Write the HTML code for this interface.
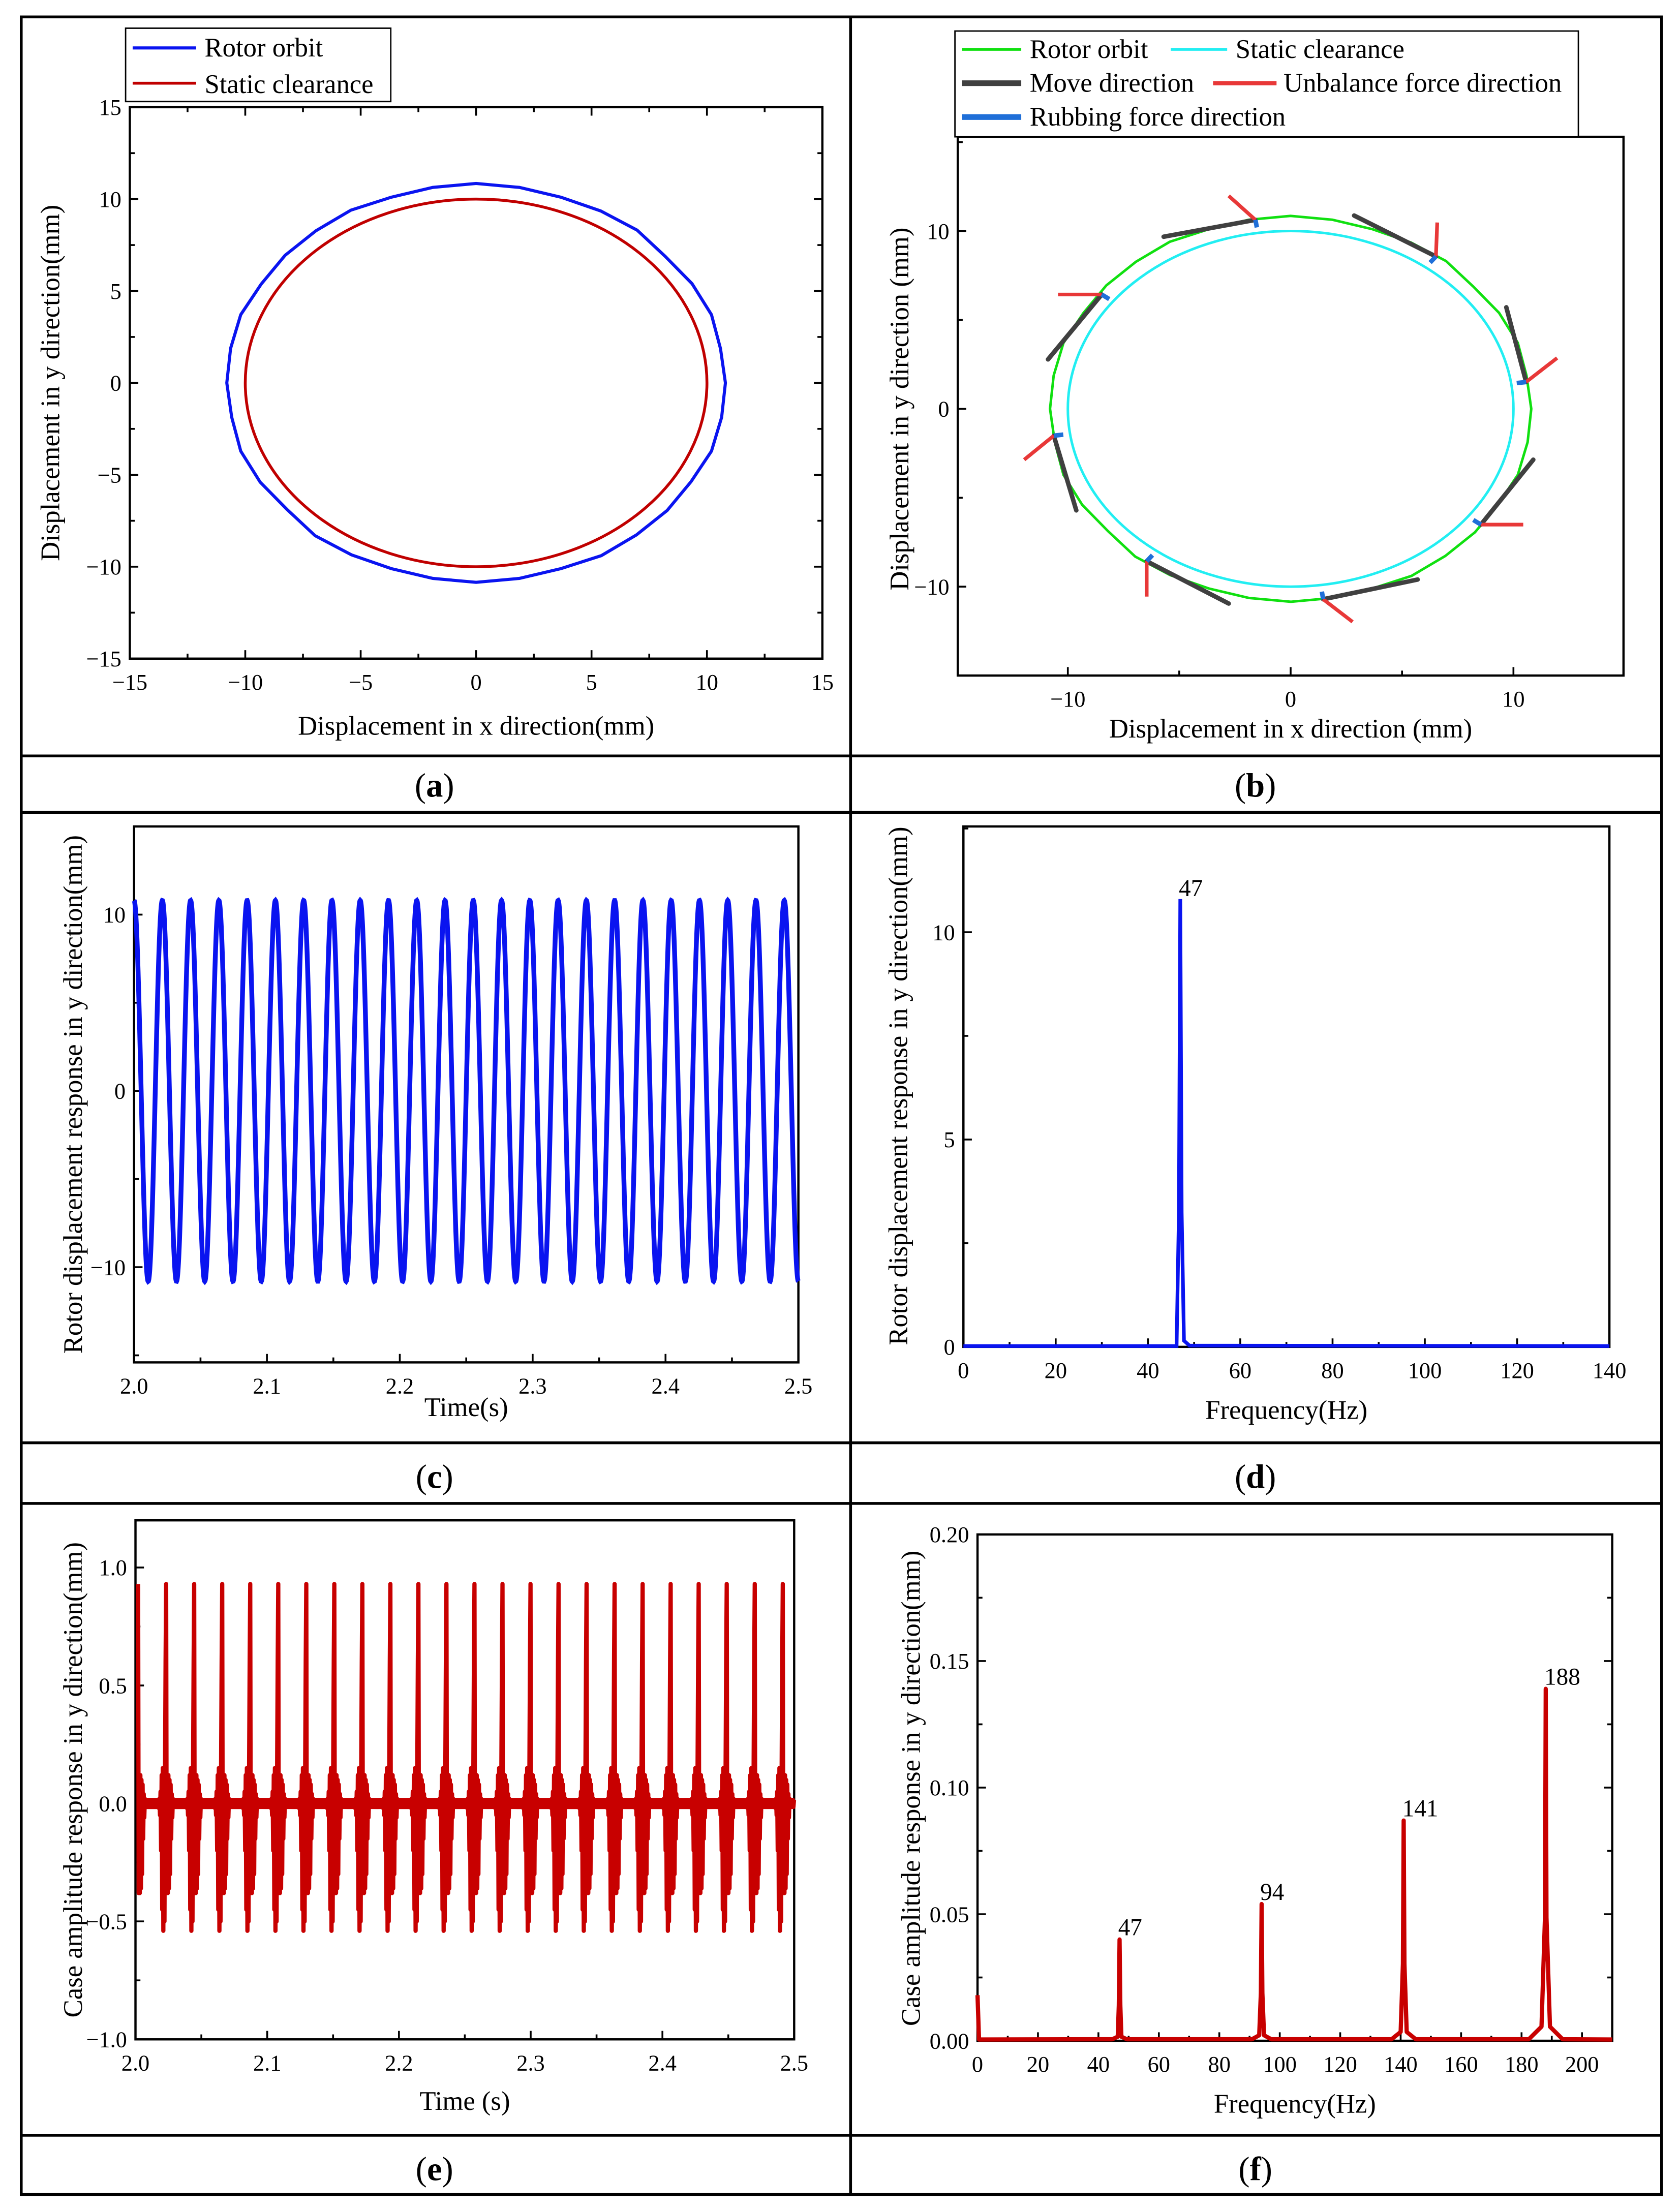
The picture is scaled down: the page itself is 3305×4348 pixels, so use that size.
<!DOCTYPE html>
<html><head><meta charset="utf-8">
<style>
html,body{margin:0;padding:0;background:#fff;}
svg{display:block;font-family:"Liberation Serif","DejaVu Serif",serif;}
</style></head>
<body>
<svg id="fig" xmlns="http://www.w3.org/2000/svg" width="3305" height="4348" viewBox="0 0 1191 1567">
<rect x="0" y="0" width="1191" height="1567" fill="#fff"/>
<g id="frame" stroke="#000" stroke-width="2" fill="none">
<rect x="15" y="12" width="1163" height="1544"/>
<line x1="603" y1="12" x2="603" y2="1556"/>
<line x1="15" y1="536" x2="1178" y2="536"/>
<line x1="15" y1="576" x2="1178" y2="576"/>
<line x1="15" y1="1023" x2="1178" y2="1023"/>
<line x1="15" y1="1066" x2="1178" y2="1066"/>
<line x1="15" y1="1514" x2="1178" y2="1514"/>
</g>
<g font-size="24" text-anchor="middle">
<text x="308" y="565">(<tspan font-weight="bold">a</tspan>)</text>
<text x="890" y="565">(<tspan font-weight="bold">b</tspan>)</text>
<text x="308" y="1055">(<tspan font-weight="bold">c</tspan>)</text>
<text x="890" y="1055">(<tspan font-weight="bold">d</tspan>)</text>
<text x="308" y="1546">(<tspan font-weight="bold">e</tspan>)</text>
<text x="890" y="1546">(<tspan font-weight="bold">f</tspan>)</text>
</g>
</svg>
<script>
// ---------- data ----------
const orbitRadiusA = [10.8,10.75,10.85,10.8,10.7,10.85,10.8,10.75,10.8,10.85,10.8,10.75,10.85,10.8,10.8,10.75,10.85,10.8,10.8,10.75,10.85,10.8,10.7,10.85,10.8,10.75,10.8,10.85,10.8,10.75,10.85,10.8,10.8,10.75,10.85,10.8];
const clearanceRadius = [10];
const contactX = [-1.58,6.52,10.57,8.54,1.46,-6.46,-10.63,-8.48];
const contactY = [10.63,8.57,1.51,-6.51,-10.71,-8.57,-1.51,6.43];
const moveX = [-5.70,2.85,9.68,10.89,5.70,-2.78,-9.62,-10.89];
const moveY = [9.68,10.87,5.71,-2.86,-9.6,-10.95,-5.71,2.78];
const unbalX = [-2.78,6.58,11.96,10.44,2.78,-6.46,-11.96,-10.44];
const unbalY = [11.98,10.48,2.86,-6.51,-11.98,-10.56,-2.86,6.43];
const rotorAmp = [10.8];
const rotorFreq = [47];
const specDFreq = [47];
const specDAmp = [10.8];
const caseCycle = [0.93,-0.38,0.12,-0.38,0.12,-0.36,0.10,-0.30,0.08,-0.15,0.04,-0.06,0.02,-0.015,0.015,-0.015,0.015,-0.015,0.015,-0.015,0.015,-0.015,0.015,-0.015,0.015,-0.015,0.015,-0.015,0.015,-0.015,0.015,-0.015,0.015,-0.015,0.015,-0.015,0.015,-0.02,0.02,-0.05,0.05,-0.20,0.12,-0.45,0.15,-0.54,0.15,-0.50,0.15,0.60];
const caseFreq = [47];
const specFFreq = [47,94,141,188];
const specFAmp = [0.040,0.054,0.087,0.139];
const specFSkirt = [0.6,0.8,1.0,1.4];
const specFLabels = ["47","94","141","188"];
const specFZero = [0.018];

// ---------- helpers ----------
const NS='http://www.w3.org/2000/svg';
const svg=document.getElementById('fig');
function mk(tag,attrs,parent){const e=document.createElementNS(NS,tag);for(const k in attrs)e.setAttribute(k,attrs[k]);(parent||svg).appendChild(e);return e;}
function scale(d0,d1,p0,p1){return v=>p0+(v-d0)/(d1-d0)*(p1-p0);}
function fmt(v,dec){if(Math.abs(v)<1e-9)return (0).toFixed(dec);return v<0?'\u2212'+(-v).toFixed(dec):v.toFixed(dec);}

function axes(name,c){
  const g=mk('g',{});
  
  
  const sx=scale(c.xmin,c.xmax,c.x0,c.x1), sy=scale(c.ymin,c.ymax,c.y1,c.y0);
  const fr=mk('rect',{x:c.x0,y:c.y0,width:c.x1-c.x0,height:c.y1-c.y0,fill:'none',stroke:'#000','stroke-width':1.6},g);
  
  
  const tg=mk('g',{stroke:'#000','stroke-width':1.3},g);
  
  
  const lg=mk('g',{'font-size':16},g);
  
  
  const isMajor=(v,m)=>Math.abs(v/m-Math.round(v/m))<1e-4;
  for(let k=Math.ceil(c.xmin/c.xminor-1e-6);k*c.xminor<=c.xmax+1e-6;k++){
    const v=k*c.xminor, major=isMajor(v,c.xmajor), L=major?6:3.5, x=sx(v);
    mk('line',{x1:x,y1:c.y1,x2:x,y2:c.y1-L},tg);
    if(c.top)mk('line',{x1:x,y1:c.y0,x2:x,y2:c.y0+L},tg);
    if(major){const t=mk('text',{x:x,y:c.y1+22,'text-anchor':'middle'},lg);t.textContent=fmt(v,c.xdec);}
  }
  for(let k=Math.ceil(c.ymin/c.yminor-1e-6);k*c.yminor<=c.ymax+1e-6;k++){
    const v=k*c.yminor, major=isMajor(v,c.ymajor), L=major?6:3.5, y=sy(v);
    mk('line',{x1:c.x0,y1:y,x2:c.x0+L,y2:y},tg);
    if(c.right)mk('line',{x1:c.x1,y1:y,x2:c.x1-L,y2:y},tg);
    if(major){const t=mk('text',{x:c.x0-6,y:y+5.5,'text-anchor':'end'},lg);t.textContent=fmt(v,c.ydec);}
  }
  const xt=mk('text',{x:(c.x0+c.x1)/2,y:c.xty,'text-anchor':'middle','font-size':19},g);
  xt.textContent=c.xtitle;
  
  
  const yc=c.ytc!==undefined?c.ytc:(c.y0+c.y1)/2;
  const yt=mk('text',{x:c.ytx,y:yc,'text-anchor':'middle','font-size':19,transform:'rotate(-90 '+c.ytx+' '+yc+')'},g);
  yt.textContent=c.ytitle;
  
  
  return {sx,sy,g};
}
function poly(pts){return pts.map((p,i)=>(i?'L':'M')+p[0].toFixed(2)+' '+p[1].toFixed(2)).join('');}

// ---------- (a) ----------
{
  const A=axes('orbit-plot-a',{x0:92,x1:583,y0:76,y1:467,xmin:-15,xmax:15,ymin:-15,ymax:15,xmajor:5,xminor:2.5,ymajor:5,yminor:2.5,xdec:0,ydec:0,top:true,right:true,xtitle:'Displacement in x direction(mm)',xty:521,ytitle:'Displacement in y direction(mm)',ytx:42});
  const pts=orbitRadiusA.map((r,i)=>{const a=i*10*Math.PI/180;return [A.sx(r*Math.cos(a)),A.sy(r*Math.sin(a))];});
  const o=mk('path',{d:poly(pts)+'Z',fill:'none',stroke:'#0a14f0','stroke-width':2.2});
  
  
  const rr=clearanceRadius[0];
  const c=mk('ellipse',{cx:A.sx(0),cy:A.sy(0),rx:A.sx(rr)-A.sx(0),ry:A.sy(0)-A.sy(rr),fill:'none',stroke:'#c00000','stroke-width':2});
  
  
  const lg=mk('g',{'font-size':19});
  
  
  mk('rect',{x:89,y:20,width:188,height:52,fill:'#fff',stroke:'#000','stroke-width':1},lg);
  mk('line',{x1:94,y1:34,x2:139,y2:34,stroke:'#0a14f0','stroke-width':2.2},lg);
  mk('text',{x:145,y:40},lg).textContent='Rotor orbit';
  mk('line',{x1:94,y1:59,x2:139,y2:59,stroke:'#c00000','stroke-width':2},lg);
  mk('text',{x:145,y:66},lg).textContent='Static clearance';
}
// ---------- (b) ----------
{
  const B=axes('orbit-plot-b',{x0:679,x1:1151,y0:97,y1:479,xmin:-14.94,xmax:14.94,ymin:-15,ymax:15.3,xmajor:10,xminor:5,ymajor:10,yminor:5,xdec:0,ydec:0,top:false,right:false,xtitle:'Displacement in x direction (mm)',xty:523,ytitle:'Displacement in y direction (mm)',ytx:644,ytc:290});
  const pts=orbitRadiusA.map((r,i)=>{const a=i*10*Math.PI/180;return [B.sx(r*Math.cos(a)),B.sy(r*Math.sin(a))];});
  const o=mk('path',{d:poly(pts)+'Z',fill:'none',stroke:'#10e010','stroke-width':1.8});
  
  
  const rr=clearanceRadius[0];
  const c=mk('ellipse',{cx:B.sx(0),cy:B.sy(0),rx:B.sx(rr)-B.sx(0),ry:B.sy(0)-B.sy(rr),fill:'none',stroke:'#22eef2','stroke-width':1.8});
  
  
  for(let i=0;i<contactX.length;i++){
    const m=mk('line',{x1:B.sx(contactX[i]),y1:B.sy(contactY[i]),x2:B.sx(moveX[i]),y2:B.sy(moveY[i]),stroke:'#404040','stroke-width':3.2,'stroke-linecap':'round'});
    
    
    const u=mk('line',{x1:B.sx(contactX[i]),y1:B.sy(contactY[i]),x2:B.sx(unbalX[i]),y2:B.sy(unbalY[i]),stroke:'#e83838','stroke-width':2.6});
    
    
    const k=0.96;
    const r=mk('line',{x1:B.sx(contactX[i]),y1:B.sy(contactY[i]),x2:B.sx(contactX[i]*k),y2:B.sy(contactY[i]*k),stroke:'#1f6fd8','stroke-width':3.2});
    
    
  }
  const lg=mk('g',{'font-size':19});
  
  
  mk('rect',{x:677,y:22,width:442,height:75,fill:'#fff',stroke:'#000','stroke-width':1},lg);
  mk('line',{x1:682,y1:35,x2:724,y2:35,stroke:'#10e010','stroke-width':2},lg);
  mk('text',{x:730,y:41},lg).textContent='Rotor orbit';
  mk('line',{x1:830,y1:35,x2:870,y2:35,stroke:'#22eef2','stroke-width':2},lg);
  mk('text',{x:876,y:41},lg).textContent='Static clearance';
  mk('line',{x1:682,y1:59,x2:724,y2:59,stroke:'#404040','stroke-width':4},lg);
  mk('text',{x:730,y:65},lg).textContent='Move direction';
  mk('line',{x1:860,y1:59,x2:905,y2:59,stroke:'#e83838','stroke-width':3},lg);
  mk('text',{x:910,y:65},lg).textContent='Unbalance force direction';
  mk('line',{x1:682,y1:83,x2:724,y2:83,stroke:'#1f6fd8','stroke-width':4},lg);
  mk('text',{x:730,y:89},lg).textContent='Rubbing force direction';
}
// ---------- (c) ----------
{
  const C=axes('time-plot-c',{x0:95,x1:566,y0:586,y1:966,xmin:2.0,xmax:2.5,ymin:-15.4,ymax:15,xmajor:0.1,xminor:0.05,ymajor:10,yminor:5,xdec:1,ydec:0,top:false,right:false,xtitle:'Time(s)',xty:1004,ytitle:'Rotor displacement response in y direction(mm)',ytx:58,ytc:776});
  const pts=[];
  for(let t=2.0;t<=2.5+1e-9;t+=0.0002){pts.push([C.sx(t),C.sy(rotorAmp[0]*Math.cos(2*Math.PI*rotorFreq[0]*(t-2.0)))]);}
  const p=mk('path',{d:poly(pts),fill:'none',stroke:'#0a14f0','stroke-width':3.4});
  
  
}
// ---------- (d) ----------
{
  const D=axes('spectrum-plot-d',{x0:683,x1:1141,y0:586,y1:955,xmin:0,xmax:140,ymin:0,ymax:12.55,xmajor:20,xminor:10,ymajor:5,yminor:2.5,xdec:0,ydec:0,top:false,right:false,xtitle:'Frequency(Hz)',xty:1006,ytitle:'Rotor displacement response in y direction(mm)',ytx:643,ytc:770});
  const pts=[[D.sx(0),D.sy(0.02)]];
  specDFreq.forEach((f,i)=>{
    pts.push([D.sx(f-0.8),D.sy(0.02)],[D.sx(f-0.3),D.sy(specDAmp[i]*0.3)],[D.sx(f),D.sy(specDAmp[i])],[D.sx(f+0.3),D.sy(specDAmp[i]*0.3)],[D.sx(f+0.8),D.sy(0.15)],[D.sx(f+2),D.sy(0.03)]);
  });
  pts.push([D.sx(140),D.sy(0.02)]);
  const p=mk('path',{d:poly(pts),fill:'none',stroke:'#0a14f0','stroke-width':2.6});
  
  
  specDFreq.forEach((f,i)=>{
    const t=mk('text',{x:D.sx(f)-1,y:D.sy(specDAmp[i])-2,'font-size':17});
    t.textContent=String(f);
    
    
  });
}
// ---------- (e) ----------
{
  const E=axes('time-plot-e',{x0:96,x1:563,y0:1078,y1:1446,xmin:2.0,xmax:2.5,ymin:-1.0,ymax:1.2,xmajor:0.1,xminor:0.05,ymajor:0.5,yminor:0.25,xdec:1,ydec:1,top:false,right:false,xtitle:'Time (s)',xty:1496,ytitle:'Case amplitude response in y direction(mm)',ytx:58,ytc:1262});
  const N=caseCycle.length, T=1/caseFreq[0], pts=[];
  for(let k=0;;k++){
    const cyc=Math.floor(k/N), j=k%N;
    const t=2.0+0.002+cyc*T+j*T/N;
    if(t>2.5)break;
    pts.push([E.sx(t),E.sy(caseCycle[j])]);
  }
  const p=mk('path',{d:poly(pts),fill:'none',stroke:'#c80000','stroke-width':3,'stroke-linejoin':'round'});
  
  
}
// ---------- (f) ----------
{
  const F=axes('spectrum-plot-f',{x0:693,x1:1143,y0:1088,y1:1447,xmin:0,xmax:210,ymin:0,ymax:0.2,xmajor:20,xminor:10,ymajor:0.05,yminor:0.025,xdec:0,ydec:2,top:false,right:true,xtitle:'Frequency(Hz)',xty:1498,ytitle:'Case amplitude response in y direction(mm)',ytx:652,ytc:1268});
  const pts=[[F.sx(0),F.sy(specFZero[0])],[F.sx(0.5),F.sy(0.0005)]];
  specFFreq.forEach((f,i)=>{
    const A=specFAmp[i],w=specFSkirt[i];
    pts.push([F.sx(f-4*w),F.sy(0.0006)],[F.sx(f-w),F.sy(A*0.04)],[F.sx(f-0.25),F.sy(A*0.35)],[F.sx(f),F.sy(A)],[F.sx(f+0.25),F.sy(A*0.35)],[F.sx(f+w),F.sy(A*0.04)],[F.sx(f+4*w),F.sy(0.0006)]);
  });
  pts.push([F.sx(210),F.sy(0.0005)]);
  const p=mk('path',{d:poly(pts),fill:'none',stroke:'#c80000','stroke-width':3,'stroke-linejoin':'round'});
  
  
  specFFreq.forEach((f,i)=>{
    const t=mk('text',{x:F.sx(f)-1,y:F.sy(specFAmp[i])-3,'font-size':17});
    t.textContent=specFLabels[i];
    
    
  });
}
</script>
</body></html>
